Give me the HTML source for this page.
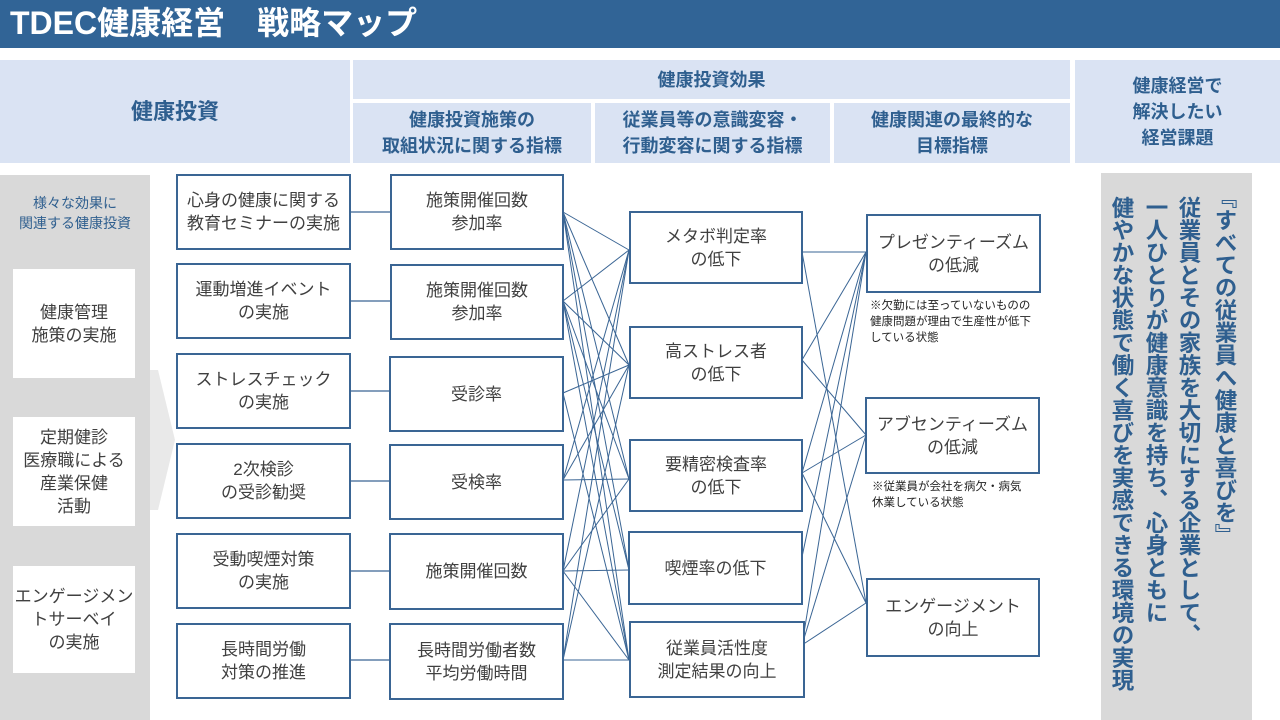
<!DOCTYPE html>
<html><head><meta charset="utf-8"><style>
*{margin:0;padding:0;box-sizing:border-box}
body{width:1280px;height:720px;position:relative;background:#fff;overflow:hidden;font-family:"Liberation Sans","Noto Sans CJK JP",sans-serif}
.a{position:absolute}
.h{position:absolute;background:#dae3f3;color:#2f5f8f;font-weight:bold;font-size:18px;display:flex;align-items:center;justify-content:center;text-align:center;line-height:26px}
.b{position:absolute;border:2.5px solid #3a6594;background:#fff;color:#404040;font-size:17px;display:flex;align-items:center;justify-content:center;text-align:center;line-height:23px}
.w{position:absolute;background:#fff;color:#404040;font-size:17px;display:flex;align-items:center;justify-content:center;text-align:center;line-height:23px;left:13px;width:122px}
.n{position:absolute;font-size:11.5px;color:#222;line-height:16px}
.v{position:absolute;writing-mode:vertical-rl;white-space:nowrap;font-size:22.5px;font-weight:bold;color:#2f5f8f;line-height:30px;width:30px}
</style></head><body>
<div class="a" style="left:0;top:0;width:1280px;height:48px;background:#316496;color:#fff;font-weight:bold;font-size:32px;line-height:46px;padding-left:10px">TDEC健康経営　戦略マップ</div>
<div class="h" style="left:0;top:60px;width:350px;height:103px;font-size:22px">健康投資</div>
<div class="h" style="left:353px;top:60px;width:717px;height:39px">健康投資効果</div>
<div class="h" style="left:353px;top:103px;width:238px;height:60px">健康投資施策の<br>取組状況に関する指標</div>
<div class="h" style="left:595px;top:103px;width:235px;height:60px">従業員等の意識変容・<br>行動変容に関する指標</div>
<div class="h" style="left:834px;top:103px;width:236px;height:60px">健康関連の最終的な<br>目標指標</div>
<div class="h" style="left:1075px;top:60px;width:205px;height:103px">健康経営で<br>解決したい<br>経営課題</div>

<div class="a" style="left:0;top:175px;width:150px;height:545px;background:#d9d9d9"></div>
<svg class="a" style="left:150px;top:370px" width="30" height="140"><polygon points="0,0 8,0 25,70 8,140 0,140" fill="#e9e9e9"/></svg>
<div class="a" style="left:0;top:193px;width:150px;text-align:center;color:#2f5f8f;font-size:14px;line-height:20px">様々な効果に<br>関連する健康投資</div>
<div class="w" style="top:269px;height:109px">健康管理<br>施策の実施</div>
<div class="w" style="top:417px;height:109px">定期健診<br>医療職による<br>産業保健<br>活動</div>
<div class="w" style="top:566px;height:107px">エンゲージメン<br>トサーベイ<br>の実施</div>

<svg class="a" style="left:0;top:0" width="1280" height="720" stroke="#3a6594" stroke-width="1" fill="none">
<g stroke-width="1.3"><line x1="350" y1="212" x2="390" y2="212"/><line x1="350" y1="301" x2="390" y2="301"/><line x1="350" y1="391" x2="390" y2="391"/><line x1="350" y1="481" x2="390" y2="481"/><line x1="350" y1="571" x2="390" y2="571"/><line x1="350" y1="660" x2="390" y2="660"/></g>
<line x1="563" y1="212" x2="629" y2="250"/><line x1="563" y1="212" x2="629" y2="365"/><line x1="563" y1="212" x2="629" y2="479"/><line x1="563" y1="212" x2="629" y2="570"/><line x1="563" y1="212" x2="629" y2="660"/>
<line x1="563" y1="301" x2="629" y2="250"/><line x1="563" y1="301" x2="629" y2="365"/><line x1="563" y1="301" x2="629" y2="479"/><line x1="563" y1="301" x2="629" y2="570"/><line x1="563" y1="301" x2="629" y2="660"/>
<line x1="563" y1="393" x2="629" y2="365"/><line x1="563" y1="393" x2="629" y2="660"/>
<line x1="563" y1="480" x2="629" y2="250"/><line x1="563" y1="480" x2="629" y2="365"/><line x1="563" y1="480" x2="629" y2="479"/>
<line x1="563" y1="571" x2="629" y2="250"/><line x1="563" y1="571" x2="629" y2="479"/><line x1="563" y1="571" x2="629" y2="570"/><line x1="563" y1="571" x2="629" y2="660"/>
<line x1="563" y1="660" x2="629" y2="250"/><line x1="563" y1="660" x2="629" y2="365"/><line x1="563" y1="660" x2="629" y2="660"/>
<line x1="802" y1="252" x2="866" y2="252"/><line x1="802" y1="252" x2="866" y2="603"/>
<line x1="802" y1="360" x2="866" y2="252"/><line x1="802" y1="360" x2="866" y2="435"/>
<line x1="802" y1="473" x2="866" y2="252"/><line x1="802" y1="473" x2="866" y2="435"/><line x1="802" y1="473" x2="866" y2="603"/>
<line x1="802" y1="557" x2="866" y2="252"/>
<line x1="802" y1="645" x2="866" y2="252"/><line x1="802" y1="645" x2="866" y2="435"/><line x1="802" y1="645" x2="866" y2="603"/>
</svg>

<div class="b" style="left:176px;top:174px;width:175px;height:76px">心身の健康に関する<br>教育セミナーの実施</div>
<div class="b" style="left:176px;top:263px;width:175px;height:76px">運動増進イベント<br>の実施</div>
<div class="b" style="left:176px;top:353px;width:175px;height:76px">ストレスチェック<br>の実施</div>
<div class="b" style="left:176px;top:443px;width:175px;height:76px">2次検診<br>の受診勧奨</div>
<div class="b" style="left:176px;top:533px;width:175px;height:76px">受動喫煙対策<br>の実施</div>
<div class="b" style="left:176px;top:623px;width:175px;height:76px">長時間労働<br>対策の推進</div>

<div class="b" style="left:390px;top:174px;width:174px;height:76px">施策開催回数<br>参加率</div>
<div class="b" style="left:390px;top:264px;width:174px;height:76px">施策開催回数<br>参加率</div>
<div class="b" style="left:389px;top:356px;width:175px;height:76px">受診率</div>
<div class="b" style="left:389px;top:444px;width:175px;height:76px">受検率</div>
<div class="b" style="left:389px;top:533px;width:175px;height:77px">施策開催回数</div>
<div class="b" style="left:389px;top:623px;width:175px;height:77px">長時間労働者数<br>平均労働時間</div>

<div class="b" style="left:629px;top:211px;width:174px;height:73px">メタボ判定率<br>の低下</div>
<div class="b" style="left:629px;top:326px;width:174px;height:73px">高ストレス者<br>の低下</div>
<div class="b" style="left:629px;top:439px;width:174px;height:73px">要精密検査率<br>の低下</div>
<div class="b" style="left:628px;top:531px;width:175px;height:74px">喫煙率の低下</div>
<div class="b" style="left:629px;top:621px;width:176px;height:77px">従業員活性度<br>測定結果の向上</div>

<div class="b" style="left:866px;top:214px;width:175px;height:79px">プレゼンティーズム<br>の低減</div>
<div class="n" style="left:870px;top:298px">※欠勤には至っていないものの<br>健康問題が理由で生産性が低下<br>している状態</div>
<div class="b" style="left:865px;top:397px;width:175px;height:77px">アブセンティーズム<br>の低減</div>
<div class="n" style="left:872px;top:479px">※従業員が会社を病欠・病気<br>休業している状態</div>
<div class="b" style="left:866px;top:578px;width:174px;height:79px">エンゲージメント<br>の向上</div>

<div class="a" style="left:1101px;top:173px;width:151px;height:547px;background:#d9d9d9"></div>
<div class="v" style="left:1209px;top:186px">『すべての従業員へ健康と喜びを』</div>
<div class="v" style="left:1173px;top:196px">従業員とその家族を大切にする企業として、</div>
<div class="v" style="left:1140px;top:196px">一人ひとりが健康意識を持ち、心身ともに</div>
<div class="v" style="left:1106px;top:196px">健やかな状態で働く喜びを実感できる環境の実現</div>
</body></html>
